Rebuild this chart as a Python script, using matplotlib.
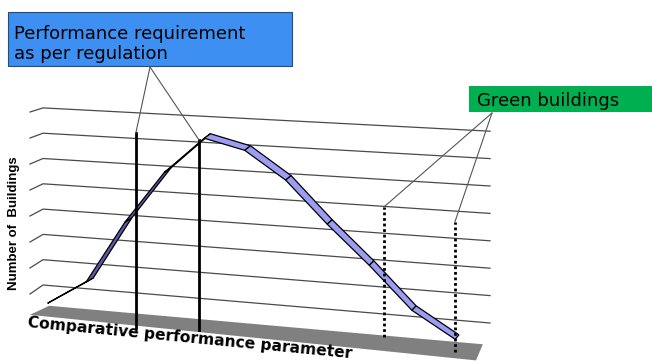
import numpy as np
import matplotlib.pyplot as plt
from matplotlib.patches import Polygon, Rectangle

# number of buildings per performance class (arbitrary units)
classes = np.arange(11)
buildings = [0.73, 1.68, 4.10, 6.10, 7.49, 7.14, 6.14, 4.63, 3.25, 1.75, 0.85]
grid_levels = [1, 2, 3, 4, 5, 6, 7, 8]

# threshold lines, given as class position and (bottom, top) on the count axis
regulation_at = [2.19, 3.79]
regulation_span = [(0.02, 7.42), (0.18, 7.32)]
green_at = [8.29, 9.95]
green_span = [(0.6, 5.33), (0.31, 4.99)]

W, H = 652, 361
N = len(classes)


def across(k):
    return (np.asarray(k, dtype=float) + 0.5) / N


def persp(c):
    return 0.93 * c / (1 - 0.07 * c)


def project(c, v, z):
    # c: 0..1 along the category axis, v: value, z: 0 = back wall, 1 = front
    g = persp(np.asarray(c, dtype=float))
    v = np.asarray(v, dtype=float)
    xb = 43 + 447 * g
    yb = (310.3 - 25.3 * v) * (1 - g) + (350.4 - 27.4 * v) * g
    xf = 30 + 446 * g
    yf = (320 - 26 * v) * (1 - g) + (366 - 28 * v) * g
    return xb + (xf - xb) * z, yb + (yf - yb) * z


fig = plt.figure(figsize=(W / 100, H / 100), dpi=100)
ax = fig.add_axes([0, 0, 1, 1])
ax.set_xlim(0, W)
ax.set_ylim(H, 0)
ax.axis('off')

plt.rcParams['font.family'] = ['DejaVu Sans']

# floor slab
fl = 0.2
floor = [project(0.015, fl, 0), project(0.985, fl, 0), project(1, fl, 1), project(0, fl, 1)]
ax.add_patch(Polygon([(float(x), float(y)) for x, y in floor], closed=True,
                     fc='#808080', ec='none', zorder=1))

# gridlines: short run on the side wall, long run on the back wall
for v in grid_levels:
    pts = [project(0, v, 1), project(0, v, 0), project(1, v, 0)]
    ax.plot([p[0] for p in pts], [p[1] for p in pts], color='#4a4a4a', lw=0.9, zorder=2)

# ribbon line: centre line plus a depth offset that narrows to the right
cc = across(classes)
xc, yc = project(cc, np.array(buildings), 0.8)
g = persp(cc)
off_x = 8.0 + (3.5 - 8.0) * g
off_y = -4.5 + 0 * g
xf, yf = xc - off_x / 2, yc - off_y / 2
xb, yb = xc + off_x / 2, yc + off_y / 2
for i in range(N - 1):
    quad = [(xf[i], yf[i]), (xf[i + 1], yf[i + 1]), (xb[i + 1], yb[i + 1]), (xb[i], yb[i])]
    sx, sy = xf[i + 1] - xf[i], yf[i + 1] - yf[i]
    dx, dy = xb[i] - xf[i], yb[i] - yf[i]
    face = '#9c9cf2' if sx * dy - sy * dx < 0 else '#5a5aaa'
    ax.add_patch(Polygon(quad, closed=True, fc=face, ec='black', lw=0.9, zorder=3))

# threshold markers
tops_reg, tops_green = [], []
for k, (lo, hi) in zip(regulation_at, regulation_span):
    x0, y0 = project(across(k), lo, 0.8)
    x1, y1 = project(across(k), hi, 0.8)
    ax.plot([x0, x1], [y0, y1], color='black', lw=2, zorder=4)
    tops_reg.append((x1, y1))
for k, (lo, hi) in zip(green_at, green_span):
    x0, y0 = project(across(k), lo, 0.8)
    x1, y1 = project(across(k), hi, 0.8)
    ax.plot([x0, x1], [y0, y1], color='black', lw=2, ls=(0, (1, 1)), zorder=4)
    tops_green.append((x1, y1))

# callout boxes
ax.add_patch(Rectangle((8, 12), 284, 54, fc='#3d8ff2', ec='#2a4a70', lw=0.8, zorder=5))
ax.text(14, 39, 'Performance requirement', fontsize=13, va='baseline', ha='left', zorder=6)
ax.text(14, 59, 'as per regulation', fontsize=13, va='baseline', ha='left', zorder=6)
for x, y in tops_reg:
    ax.plot([150, x], [67, y], color='#555555', lw=0.8, zorder=4)

ax.add_patch(Rectangle((469, 86), 183, 26, fc='#00b050', ec='none', zorder=5))
ax.text(477, 106, 'Green buildings', fontsize=13, va='baseline', ha='left', zorder=6)
for x, y in tops_green:
    ax.plot([492, x], [113, y], color='#555555', lw=0.8, zorder=4)

# axis titles
ax.text(14, 223, 'Number of  Buildings', rotation=90, fontsize=9.5, fontweight='bold',
        family='Liberation Sans', ha='center', va='center', zorder=6)
ax.text(190, 338, 'Comparative performance parameter', rotation=-5.5, fontsize=11.2,
        fontweight='bold', ha='center', va='center', rotation_mode='anchor', zorder=6)

fig.savefig('out.png', dpi=100)
